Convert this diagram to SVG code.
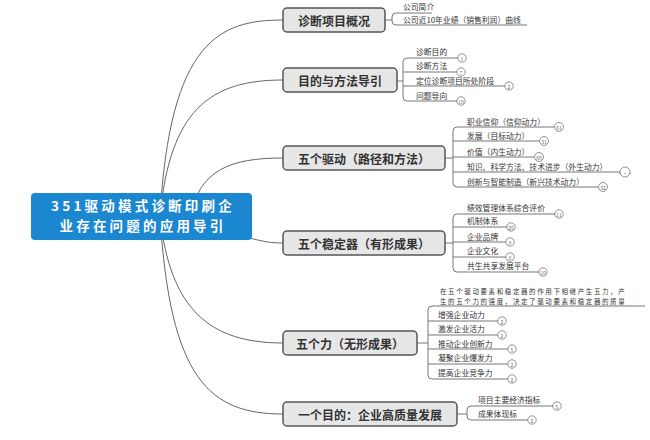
<svg xmlns="http://www.w3.org/2000/svg" width="650" height="440" viewBox="0 0 650 440">
<style>
text{font-family:"Noto Sans CJK SC","Noto Sans",sans-serif;fill:#333}
.c{fill:none;stroke:#666;stroke-width:1}
.u{fill:none;stroke:#777;stroke-width:1}
.n rect{fill:#e6e6e6;stroke:#555;stroke-width:1.5}
.n text{font-size:12px;font-weight:bold;text-anchor:middle;dominant-baseline:central}
.t{font-size:7.8px}
.t2{font-size:6.5px;letter-spacing:1.6px}
.r{font-size:13.5px;font-weight:bold;letter-spacing:3.2px;text-anchor:middle;fill:#fff}
.b circle{fill:#fff;stroke:#777;stroke-width:0.8}
.b text{font-size:5px;text-anchor:middle;dominant-baseline:central;fill:#666}
</style>
<rect width="650" height="440" fill="#fff"/>
<g id="connectors">
<path class="c" d="M160,216 C170,40 220,20 283,20"/>
<path class="c" d="M160,216 C170,110 210,80 283,80"/>
<path class="c" d="M190,216 C200,170 230,158 283,158"/>
<path class="c" d="M240,236 C260,240 265,243 283,243"/>
<path class="c" d="M160,216 C170,310 210,343 283,343"/>
<path class="c" d="M160,216 C170,380 210,414 283,414"/>
<path class="u" d="M385,20 H392 M396,13 Q392,13 392,17 V21 Q392,25 396,25 M396,13 H432 M396,25 H527"/>
<path class="u" d="M397,81 H403 M407,58 Q403,58 403,62 V97 Q403,101 407,101 M407,58 H458 M403,72 H457 M403,86 H505 M407,101 H457"/>
<path class="u" d="M445,158 H453 M457,127 Q453,127 453,131 V183 Q453,187 457,187 M457,127 H554 M453,141 H539 M453,157 H534 M453,172 H620 M457,187 H598"/>
<path class="u" d="M445,243 H453 M457,214 Q453,214 453,218 V268 Q453,272 457,272 M457,214 H555 M453,227 H507 M453,242 H506 M453,257 H506 M457,272 H539"/>
<path class="u" d="M417,343 H428 M432,306 Q428,306 428,310 V375 Q428,379 432,379 M432,306 H645 M428,321 H498 M428,335 H498 M428,349 H508 M428,364 H508 M432,379 H508"/>
<path class="u" d="M457,414 H467 M471,406 Q467,406 467,410 V416 Q467,420 471,420 M471,406 H553 M471,420 H528"/>
</g>
<g id="root">
<rect x="31" y="193" width="221" height="47" rx="4" fill="#1b87d1"/>
<text class="r" x="143" y="211">351驱动模式诊断印刷企</text>
<text class="r" x="143" y="231">业存在问题的应用导引</text>
</g>
<g id="n1" class="n"><rect x="283" y="8" width="102" height="24" rx="4"/><text x="334" y="20">诊断项目概况</text></g>
<g id="n2" class="n"><rect x="283" y="68" width="114" height="24" rx="4"/><text x="340" y="80">目的与方法导引</text></g>
<g id="n3" class="n"><rect x="283" y="146" width="162" height="24" rx="4"/><text x="364" y="158">五个驱动（路径和方法）</text></g>
<g id="n4" class="n"><rect x="283" y="231" width="162" height="24" rx="4"/><text x="364" y="243">五个稳定器（有形成果）</text></g>
<g id="n5" class="n"><rect x="283" y="331" width="134" height="24" rx="4"/><text x="350" y="343">五个力（无形成果）</text></g>
<g id="n6" class="n"><rect x="283" y="402" width="174" height="24" rx="4"/><text x="370" y="414">一个目的：企业高质量发展</text></g>
<g id="n1-children">
<text class="t" x="403" y="10">公司简介</text>
<text class="t" x="403" y="23">公司近10年业绩（销售利润）曲线</text>
</g>
<g id="n2-children">
<text class="t" x="416" y="55">诊断目的</text>
<text class="t" x="416" y="69">诊断方法</text>
<text class="t" x="416" y="84">定位诊断项目所处阶段</text>
<text class="t" x="416" y="99">问题导向</text>
<g class="b"><circle cx="462" cy="58" r="4.2"/><text x="462" y="58">1</text></g>
<g class="b"><circle cx="461" cy="72" r="4.2"/><text x="461" y="72">7</text></g>
<g class="b"><circle cx="509" cy="86" r="4.2"/><text x="509" y="86">2</text></g>
<g class="b"><circle cx="461" cy="101" r="4.2"/><text x="461" y="101">19</text></g>
</g>
<g id="n3-children">
<text class="t" x="467" y="125">职业信仰（信仰动力）</text>
<text class="t" x="467" y="139">发展（目标动力）</text>
<text class="t" x="467" y="155">价值（内生动力）</text>
<text class="t" x="467" y="170">知识、科学方法、技术进步（外生动力）</text>
<text class="t" x="467" y="185">创新与智能制造（新兴技术动力）</text>
<g class="b"><circle cx="559" cy="127" r="4.5"/><text x="559" y="127">61</text></g>
<g class="b"><circle cx="544" cy="141" r="4.5"/><text x="544" y="141">31</text></g>
<g class="b"><circle cx="539" cy="157" r="4.5"/><text x="539" y="157">60</text></g>
<g class="b"><circle cx="625" cy="172" r="5"/><text x="625" y="172">···</text></g>
<g class="b"><circle cx="603" cy="187" r="4.5"/><text x="603" y="187">32</text></g>
</g>
<g id="n4-children">
<text class="t" x="467" y="211">绩效管理体系综合评价</text>
<text class="t" x="467" y="224">机制体系</text>
<text class="t" x="467" y="240">企业品牌</text>
<text class="t" x="467" y="254">企业文化</text>
<text class="t" x="467" y="269">共生共享发展平台</text>
<g class="b"><circle cx="559" cy="214" r="4.2"/><text x="559" y="214">11</text></g>
<g class="b"><circle cx="511" cy="227" r="4.2"/><text x="511" y="227">25</text></g>
<g class="b"><circle cx="510" cy="242" r="4.2"/><text x="510" y="242">9</text></g>
<g class="b"><circle cx="510" cy="257" r="4.2"/><text x="510" y="257">8</text></g>
<g class="b"><circle cx="543" cy="272" r="4.2"/><text x="543" y="272">10</text></g>
</g>
<g id="n5-children">
<text class="t2" x="440" y="294">在五个驱动要素和稳定器的作用下相继产生五力，产</text>
<text class="t2" x="440" y="303.6">生的五个力的强度，决定了驱动要素和稳定器的质量</text>
<text class="t" x="438" y="318">增强企业动力</text>
<text class="t" x="438" y="332">激发企业活力</text>
<text class="t" x="438" y="347">推动企业创新力</text>
<text class="t" x="438" y="361">凝聚企业爆发力</text>
<text class="t" x="438" y="376">提高企业竞争力</text>
<g class="b"><circle cx="502" cy="321" r="4.2"/><text x="502" y="321">2</text></g>
<g class="b"><circle cx="502" cy="335" r="4.2"/><text x="502" y="335">2</text></g>
<g class="b"><circle cx="512" cy="349" r="4.2"/><text x="512" y="349">5</text></g>
<g class="b"><circle cx="512" cy="364" r="4.2"/><text x="512" y="364">2</text></g>
<g class="b"><circle cx="512" cy="379" r="4.2"/><text x="512" y="379">2</text></g>
</g>
<g id="n6-children">
<text class="t" x="478" y="403">项目主要经济指标</text>
<text class="t" x="478" y="417">成果体现标</text>
<g class="b"><circle cx="557" cy="406" r="4.2"/><text x="557" y="406">5</text></g>
<g class="b"><circle cx="532" cy="420" r="4.2"/><text x="532" y="420">2</text></g>
</g>
</svg>
